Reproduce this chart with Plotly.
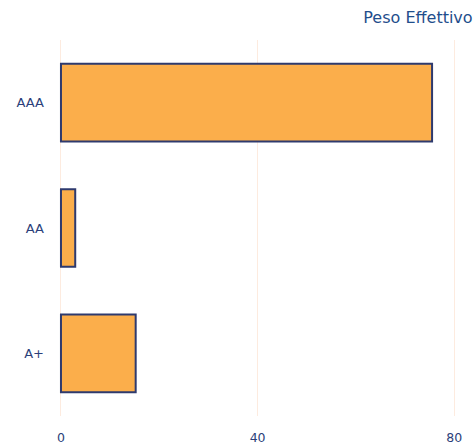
import plotly.graph_objects as go

categories = ["AAA", "AA", "A+"]
values = [75.5, 2.9, 15.2]
tick_vals = [0, 40, 80]
title_text = "Peso Effettivo"

fig = go.Figure(
    go.Bar(
        x=values,
        y=categories,
        orientation="h",
        marker=dict(color="#FBAE4B", line=dict(color="#2E3A6E", width=2)),
        width=0.62,
    )
)

fig.update_layout(
    width=475,
    height=444,
    margin=dict(l=59, r=10, t=40, b=28),
    paper_bgcolor="white",
    plot_bgcolor="white",
    showlegend=False,
    title=dict(
        text=title_text,
        x=0.995,
        xanchor="right",
        xref="container",
        y=0.96,
        yanchor="middle",
        yref="container",
        font=dict(family="DejaVu Sans", size=16, color="#1F4E8C"),
    ),
    font=dict(family="DejaVu Sans", size=12, color="#2B3F7A"),
)

fig.update_xaxes(
    range=[-0.4, 82.2],
    tickvals=tick_vals,
    showgrid=True,
    gridcolor="#FDEBDF",
    gridwidth=1,
    zeroline=False,
    showline=False,
    automargin=False,
    ticklabelstandoff=12,
    tickfont=dict(family="DejaVu Sans", size=12.5, color="#2B3F7A"),
)
fig.update_yaxes(
    range=[2.5, -0.5],
    showgrid=False,
    zeroline=False,
    showline=False,
    automargin=False,
    ticklabelstandoff=14,
    tickfont=dict(family="DejaVu Sans", size=13, color="#2B3F7A"),
)

fig.write_html("out.html")
